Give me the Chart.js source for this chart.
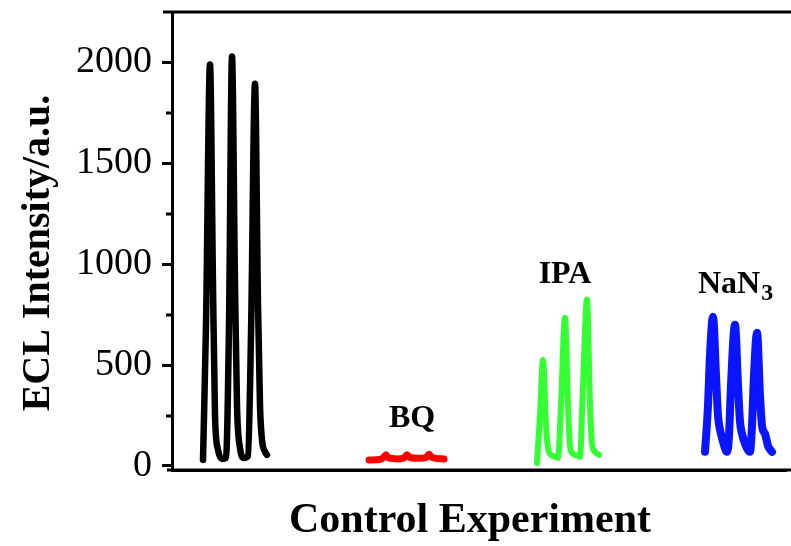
<!DOCTYPE html>
<html>
<head>
<meta charset="utf-8">
<script src="https://cdn.jsdelivr.net/npm/chart.js@4.4.0/dist/chart.umd.min.js"></script>
<style>
html,body{margin:0;padding:0;background:#fff;}
#wrap{width:791px;height:546px;position:relative;}
</style>
</head>
<body>
<div id="wrap"><canvas id="c" width="791" height="546"></canvas></div>
<script>
// x values are time-like positions along the (unlabelled) horizontal axis
const blankX = [31,34,38,41,43,46,50,54,57,60,63,65,68,72,76,79,83,86,88,90,93,95];
const blankY = [30,700,1990,900,250,80,35,40,700,2030,900,300,90,40,50,650,1895,800,300,130,70,55];

const bqX = [197,208,212,214,216,226,232,235,238,248,254,257,260,272];
const bqY = [30,32,45,55,42,35,40,55,42,38,42,58,42,35];

const ipaX = [365,368,371,374,376,379,384,386,389,393,396,398,401,406,408,411,415,418,420,423,427];
const ipaY = [15,250,525,200,90,55,45,40,300,735,300,100,60,50,45,400,825,300,110,70,55];

const nanX = [533,536,538,541,544,546,548,551,555,557,559,563,566,568,570,573,578,580,582,585,588,590,593,596,600];
const nanY = [70,300,550,740,450,250,180,120,70,150,400,700,400,220,160,110,70,200,450,660,350,200,160,100,70];

const yTicksMajor = [0,500,1000,1500,2000];
const yTicksMinor = [250,750,1250,1750];

const labelText = ['BQ','IPA','NaN'];
const labelX = [240,393,526];
const labelY = [194,908,858];

const xTitle = 'Control Experiment';
const yTitle = 'ECL Intensity/a.u.';

function pts(xs, ys){ return xs.map((x,i)=>({x:x, y:ys[i]})); }

const serif = '"Liberation Serif","Times New Roman",serif';

const extras = {
  id:'extras',
  afterDraw(chart){
    const ctx = chart.ctx, xs = chart.scales.x, ys = chart.scales.y;
    const ca = chart.chartArea;
    ctx.save();
    ctx.strokeStyle = '#000'; ctx.lineWidth = 3;
    yTicksMinor.forEach(v=>{
      const py = Math.round(ys.getPixelForValue(v));
      ctx.beginPath(); ctx.moveTo(ys.right - 6, py); ctx.lineTo(ys.right, py); ctx.stroke();
    });
    // frame line along the top, as in the source figure
    ctx.beginPath(); ctx.moveTo(ca.left - 9, ca.top); ctx.lineTo(chart.width, ca.top); ctx.stroke();
    // bottom axis extends slightly past the y axis and to the edge
    ctx.beginPath(); ctx.moveTo(ca.left - 5, ca.bottom); ctx.lineTo(chart.width, ca.bottom); ctx.stroke();

    ctx.fillStyle = '#000';
    ctx.textBaseline = 'alphabetic';
    ctx.font = 'bold 32px ' + serif;
    ctx.textAlign = 'center';
    ctx.fillText(labelText[0], xs.getPixelForValue(labelX[0]), ys.getPixelForValue(labelY[0]));
    ctx.fillText(labelText[1], xs.getPixelForValue(labelX[1]), ys.getPixelForValue(labelY[1]));
    ctx.textAlign = 'left';
    const nx = xs.getPixelForValue(labelX[2]), ny = ys.getPixelForValue(labelY[2]);
    ctx.fillText(labelText[2], nx, ny);
    const w = ctx.measureText(labelText[2]).width;
    ctx.font = 'bold 24px ' + serif;
    ctx.fillText('3', nx + w + 1, ny + 7);

    // axis titles
    ctx.textAlign = 'center';
    ctx.textBaseline = 'middle';
    ctx.font = 'bold 42px ' + serif;
    ctx.fillText(xTitle, ca.left + 298, ca.bottom + 51);
    ctx.save();
    ctx.translate(39, (ca.top + ca.bottom) / 2 + 12);
    ctx.rotate(-Math.PI / 2);
    ctx.font = 'bold 40px ' + serif;
    ctx.fillText(yTitle, 0, 0);
    ctx.restore();
    ctx.restore();
  }
};

const common = {showLine:true, pointRadius:0, borderCapStyle:'round', borderJoinStyle:'round', cubicInterpolationMode:'monotone', fill:false};

new Chart(document.getElementById('c'), {
  type:'scatter',
  data:{
    datasets:[
      Object.assign({label:'Blank', data:pts(blankX,blankY), borderColor:'#000000', borderWidth:6.5}, common),
      Object.assign({label:'BQ', data:pts(bqX,bqY), borderColor:'#ff0000', borderWidth:7}, common),
      Object.assign({label:'IPA', data:pts(ipaX,ipaY), borderColor:'#33ff33', borderWidth:6}, common),
      Object.assign({label:'NaN3', data:pts(nanX,nanY), borderColor:'#0a14ff', borderWidth:8}, common)
    ]
  },
  options:{
    responsive:false,
    animation:false,
    layout:{padding:{top:12,right:5,left:0,bottom:0}},
    plugins:{legend:{display:false}, tooltip:{enabled:false}},
    scales:{
      x:{
        type:'linear', min:0, max:614,
        ticks:{display:false},
        grid:{display:false, drawTicks:false},
        border:{display:true, width:3, color:'#000'},
        afterFit(s){ s.height = 76; s.paddingLeft = 0; s.paddingRight = 0; }
      },
      y:{
        type:'linear', min:-20, max:2250,
        afterBuildTicks(s){ s.ticks = yTicksMajor.map(v=>({value:v})); },
        ticks:{color:'#000', font:{family:serif, size:38}, padding:10, includeBounds:false, callback:(v)=>String(v)},
        grid:{display:true, drawOnChartArea:false, drawTicks:true, tickLength:10, tickWidth:3, tickColor:'#000'},
        border:{display:true, width:3, color:'#000'},
        afterFit(s){ s.width = 172; s.paddingTop = 0; s.paddingBottom = 0; }
      }
    }
  },
  plugins:[extras]
});
</script>
</body>
</html>
